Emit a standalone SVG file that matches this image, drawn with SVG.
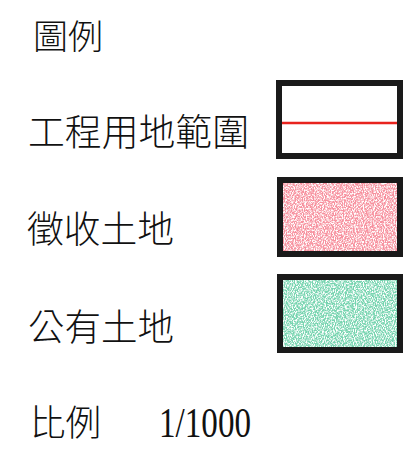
<svg xmlns="http://www.w3.org/2000/svg" width="413" height="450" viewBox="0 0 413 450">
  <style>
    .lbl { font-family: "Noto Sans CJK TC", "Noto Sans CJK SC", sans-serif; font-weight: 300; fill: #111; }
    .num { font-family: "Liberation Serif", serif; fill: #111; }
    .frame { fill: #fff; stroke: #1a1a1a; stroke-width: 6; }
  </style>
  <defs>
    <filter id="crayonRed" x="0" y="0" width="100%" height="100%" filterUnits="objectBoundingBox">
      <feTurbulence type="fractalNoise" baseFrequency="0.9 0.6" numOctaves="2" seed="4" result="n"/>
      <feColorMatrix in="n" type="matrix" values="0 0 0 0 0.93  0 0 0 0 0.28  0 0 0 0 0.34  3.4 0 0 0 -1.1"/>
    </filter>
    <filter id="crayonGreen" x="0" y="0" width="100%" height="100%" filterUnits="objectBoundingBox">
      <feTurbulence type="fractalNoise" baseFrequency="0.9 0.6" numOctaves="2" seed="9" result="n"/>
      <feColorMatrix in="n" type="matrix" values="0 0 0 0 0.18  0 0 0 0 0.66  0 0 0 0 0.43  3.4 0 0 0 -1.1"/>
    </filter>
  </defs>
  <rect width="413" height="450" fill="#fff"/>

  <g id="title">
    <text class="lbl" x="33" y="49" font-size="34" textLength="70" lengthAdjust="spacingAndGlyphs">圖例</text>
  </g>

  <g id="legend-boundary">
    <text class="lbl" x="28" y="146" font-size="37" textLength="221" lengthAdjust="spacingAndGlyphs">工程用地範圍</text>
    <rect class="frame" x="279" y="83" width="121" height="73"/>
    <line x1="282" y1="123" x2="397" y2="123" stroke="#e8231e" stroke-width="2.5"/>
  </g>

  <g id="legend-expropriated">
    <text class="lbl" x="27" y="243" font-size="37" textLength="147" lengthAdjust="spacingAndGlyphs">徵收土地</text>
    <rect class="frame" x="280" y="180" width="120" height="74"/>
    <rect x="283" y="183" width="114" height="68" filter="url(#crayonRed)"/>
  </g>

  <g id="legend-public">
    <text class="lbl" x="28" y="341" font-size="37" textLength="146" lengthAdjust="spacingAndGlyphs">公有土地</text>
    <rect class="frame" x="280" y="277" width="120" height="73"/>
    <rect x="283" y="280" width="114" height="67" filter="url(#crayonGreen)"/>
  </g>

  <g id="scale">
    <text class="lbl" x="30" y="436" font-size="36" textLength="71" lengthAdjust="spacingAndGlyphs">比例</text>
    <text class="num" x="159" y="437" font-size="42" textLength="92" lengthAdjust="spacingAndGlyphs">1/1000</text>
  </g>

  <g id="connectors"/>
</svg>
